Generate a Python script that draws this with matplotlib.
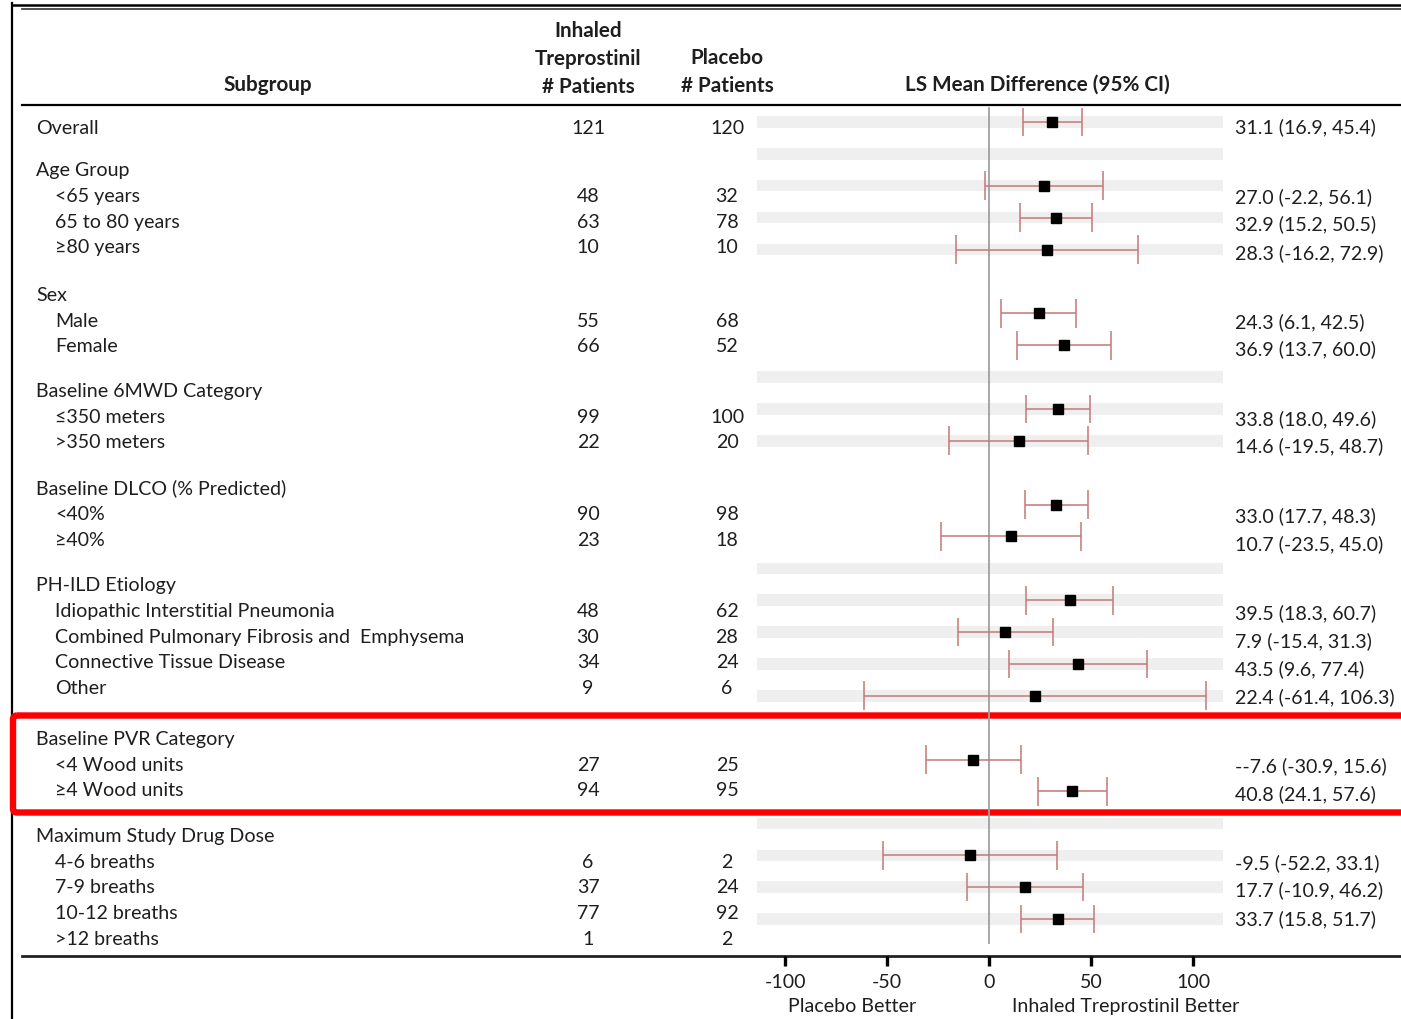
import numpy as np
import matplotlib
matplotlib.use("Agg")
import matplotlib.pyplot as plt
from matplotlib.patches import FancyBboxPatch

plt.rcParams['font.family'] = ['Lato', 'DejaVu Sans']

# table rows (left side)
sub_labels = ["Overall", "Age Group", "<65 years", "65 to 80 years", "≥80 years",
              "Sex", "Male", "Female",
              "Baseline 6MWD Category", "≤350 meters", ">350 meters",
              "Baseline DLCO (% Predicted)", "<40%", "≥40%",
              "PH-ILD Etiology", "Idiopathic Interstitial Pneumonia",
              "Combined Pulmonary Fibrosis and  Emphysema",
              "Connective Tissue Disease", "Other",
              "Baseline PVR Category", "<4 Wood units", "≥4 Wood units",
              "Maximum Study Drug Dose", "4-6 breaths", "7-9 breaths",
              "10-12 breaths", ">12 breaths"]
indent = [0, 0, 1, 1, 1, 0, 1, 1, 0, 1, 1, 0, 1, 1, 0, 1, 1, 1, 1, 0, 1, 1, 0, 1, 1, 1, 1]
group = [0, 1, 1, 1, 1, 2, 2, 2, 3, 3, 3, 4, 4, 4, 5, 5, 5, 5, 5, 6, 6, 6, 7, 7, 7, 7, 7]
n_trep = ["121", "", "48", "63", "10", "", "55", "66", "", "99", "22", "", "90", "23",
          "", "48", "30", "34", "9", "", "27", "94", "", "6", "37", "77", "1"]
n_plac = ["120", "", "32", "78", "10", "", "68", "52", "", "100", "20", "", "98", "18",
          "", "62", "28", "24", "6", "", "25", "95", "", "2", "24", "92", "2"]

# forest plot rows
est = [31.1, 27.0, 32.9, 28.3, 24.3, 36.9, 33.8, 14.6, 33.0, 10.7,
       39.5, 7.9, 43.5, 22.4, -7.6, 40.8, -9.5, 17.7, 33.7]
lo = [16.9, -2.2, 15.2, -16.2, 6.1, 13.7, 18.0, -19.5, 17.7, -23.5,
      18.3, -15.4, 9.6, -61.4, -30.9, 24.1, -52.2, -10.9, 15.8]
hi = [45.4, 56.1, 50.5, 72.9, 42.5, 60.0, 49.6, 48.7, 48.3, 45.0,
      60.7, 31.3, 77.4, 106.3, 15.6, 57.6, 33.1, 46.2, 51.7]
est_text = ["31.1 (16.9, 45.4)", "27.0 (-2.2, 56.1)", "32.9 (15.2, 50.5)",
            "28.3 (-16.2, 72.9)", "24.3 (6.1, 42.5)", "36.9 (13.7, 60.0)",
            "33.8 (18.0, 49.6)", "14.6 (-19.5, 48.7)", "33.0 (17.7, 48.3)",
            "10.7 (-23.5, 45.0)", "39.5 (18.3, 60.7)", "7.9 (-15.4, 31.3)",
            "43.5 (9.6, 77.4)", "22.4 (-61.4, 106.3)", "--7.6 (-30.9, 15.6)",
            "40.8 (24.1, 57.6)", "-9.5 (-52.2, 33.1)", "17.7 (-10.9, 46.2)",
            "33.7 (15.8, 51.7)"]
plot_row = [0, 2, 3, 4, 6, 7, 9, 10, 12, 13, 15, 16, 17, 18, 20, 21, 23, 24, 25]
band_rows = [0, 1, 2, 3, 4, 8, 9, 10, 14, 15, 16, 17, 18, 22, 23, 24, 25]
xticks = [-100, -50, 0, 50, 100]

# layout (pixels)
W, H = 1401, 1020
TXT = "#1e1e1e"
FS = 14.1
HFS = 14.9
group_gap = [0, 16, 22, 19, 20, 20, 25, 20]
est_y = [127, 197, 224, 253, 322, 349, 419, 446, 516, 544,
         613, 641, 669, 697, 766, 794, 863, 890, 919]

fig = plt.figure(figsize=(W / 100, H / 100), dpi=100)
fig.patch.set_facecolor("white")

# full-figure axes in pixels for table text and rules
tab = fig.add_axes([0, 0, 1, 1])
tab.set_xlim(0, W)
tab.set_ylim(H, 0)
tab.axis("off")

tab.plot([12, 12], [4, H], color="k", lw=1.6)
tab.plot([12, W], [6, 6], color="k", lw=1.8)
tab.plot([22, W], [10, 10], color="#333333", lw=1.2)
tab.plot([22, W], [105.5, 105.5], color="k", lw=1.6)
tab.plot([22, W], [957, 957], color="#222222", lw=2.0)

hdr = dict(fontsize=HFS, fontweight="bold", color=TXT, ha="center", va="center")
tab.text(268, 85, "Subgroup", **hdr)
tab.text(588, 59, "Inhaled\nTreprostinil\n# Patients", linespacing=1.5, **hdr)
tab.text(727, 72.5, "Placebo\n# Patients", linespacing=1.5, **hdr)
tab.text(1037, 85, "LS Mean Difference (95% CI)", **hdr)

y = 129 - 25.7
for i, lab in enumerate(sub_labels):
    y += 25.7
    if i > 0 and group[i] != group[i - 1]:
        y += group_gap[group[i]]
    tab.text(36 + 19 * indent[i], y, lab, fontsize=FS, color=TXT, va="center")
    tab.text(588, y, n_trep[i], fontsize=FS, color=TXT, va="center", ha="center")
    tab.text(727, y, n_plac[i], fontsize=FS, color=TXT, va="center", ha="center")

for yy, s in zip(est_y, est_text):
    tab.text(1235, yy, s, fontsize=FS, color=TXT, va="center", ha="left")

# forest axes
fx0, fx1, top, bot = 757, 1223, 108, 945
zero_px, scale = 989, 2.04
ax = fig.add_axes([fx0 / W, 1 - bot / H, (fx1 - fx0) / W, (bot - top) / H])
ax.set_xlim((fx0 - zero_px) / scale, (fx1 - zero_px) / scale)
ax.set_ylim((bot - 123) / 31.88, (top - 123) / 31.88)
ax.axis("off")
ax.patch.set_visible(False)

for r in band_rows:
    ax.axhspan(r - 0.18, r + 0.18, color="#efefef", lw=0, zorder=0)
ax.axvline(0, color="#a0a0a0", lw=1.3, zorder=1)

rows = np.array(plot_row)
ax.hlines(rows, lo, hi, color="#c47878", lw=1.1, zorder=2)
ax.vlines(lo, rows - 0.45, rows + 0.45, color="#c47878", lw=1.1, zorder=2)
ax.vlines(hi, rows - 0.45, rows + 0.45, color="#c47878", lw=1.1, zorder=2)
ax.plot(est, rows, "s", color="k", ms=6.5, zorder=3)

# bottom tick axis
bx = fig.add_axes([fx0 / W, 1 - 957 / H, (fx1 - fx0) / W, 0.0001])
bx.set_xlim(ax.get_xlim())
bx.patch.set_visible(False)
for sp in bx.spines.values():
    sp.set_visible(False)
bx.set_yticks([])
bx.set_xticks(xticks)
bx.set_xticklabels([str(t) for t in xticks])
bx.tick_params(axis="x", direction="out", length=7.5, width=2.4, color="k",
               labelsize=FS, labelcolor=TXT, pad=5)

tab.text(852, 1007, "Placebo Better", fontsize=FS, color=TXT, ha="center", va="center")
tab.text(1126, 1007, "Inhaled Treprostinil Better", fontsize=FS, color=TXT,
         ha="center", va="center")

# highlight box
box = FancyBboxPatch((13, 716.5), 1410, 97, boxstyle="round,pad=0,rounding_size=4",
                     lw=4.6, ec="#ff0000", fc="none", clip_on=False, zorder=5)
tab.add_patch(box)

fig.savefig("out.png", dpi=100)
